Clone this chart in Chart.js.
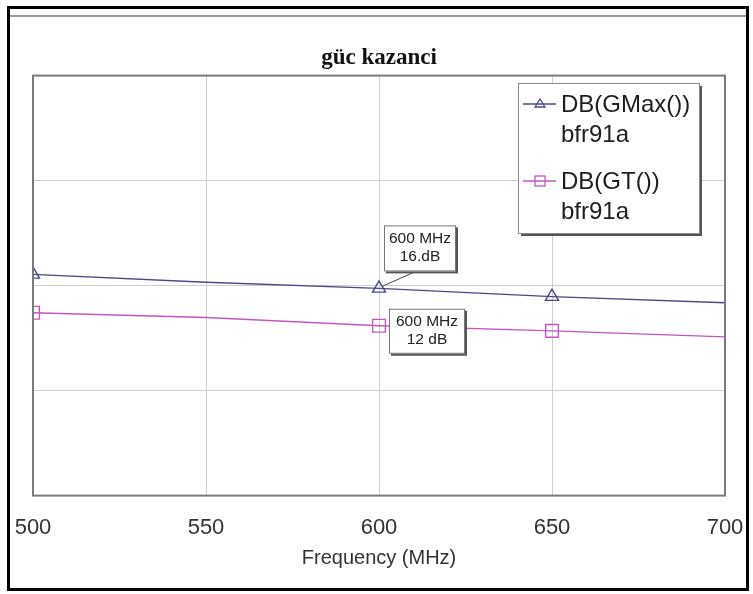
<!DOCTYPE html>
<html>
<head>
<meta charset="utf-8">
<script src="https://cdn.jsdelivr.net/npm/chart.js@4"></script>
<style>
html,body{margin:0;padding:0;background:#fff;}
#wrap{width:753px;height:594px;position:relative;}
</style>
</head>
<body>
<div id="wrap"><canvas id="c" width="753" height="594"></canvas></div>
<script>
// ---- data ----
const titleText = "güc kazanci";
const xAxisTitle = "Frequency (MHz)";
const frequencies = [500, 550, 600, 650, 700];
const gmaxValues = [17.5, 16.66, 16.0, 15.12, 14.47];
const gtValues = [13.39, 12.89, 12.0, 11.45, 10.81];
const gmaxMarkers = [1, 0, 1, 1, 0];
const gtMarkers = [1, 0, 1, 1, 0];
const seriesNames = ["DB(GMax())", "DB(GT())"];
const seriesSub = ["bfr91a", "bfr91a"];
const markerLabels = [["600 MHz", "16.dB"], ["600 MHz", "12 dB"]];
const markerFreq = 600;
const xTicks = [500, 550, 600, 650, 700];
const yMin = -6.2, yMax = 38.8, yDivisions = 4;

const colGMax = '#4a4a86';
const colGT = '#c258c2';
const FONT = "'Liberation Sans', Arial, sans-serif";

const framePlugin = {
  id: 'frame',
  beforeDraw(chart) {
    const ctx = chart.ctx;
    ctx.save();
    ctx.fillStyle = '#fff';
    ctx.fillRect(0, 0, chart.width, chart.height);
    ctx.restore();
  },
  afterDatasetsDraw(chart) {
    const ctx = chart.ctx, a = chart.chartArea;
    ctx.save();
    // plot frame
    ctx.strokeStyle = '#7a7a7a';
    ctx.lineWidth = 2;
    ctx.strokeRect(a.left, a.top, a.right - a.left, a.bottom - a.top);
    // outer border
    ctx.strokeStyle = '#000';
    ctx.lineWidth = 3;
    ctx.strokeRect(8.5, 7.5, 739, 582);
    ctx.strokeStyle = '#9a9a9a';
    ctx.lineWidth = 2;
    ctx.beginPath(); ctx.moveTo(10, 16); ctx.lineTo(746, 16); ctx.stroke();

    // legend box
    const lx = 518, ly = 83, lw = 181, lh = 150;
    ctx.fillStyle = '#555';
    ctx.fillRect(lx + 3, ly + 3, lw, lh);
    ctx.fillStyle = '#fff';
    ctx.fillRect(lx, ly, lw, lh);
    ctx.strokeStyle = '#8a8a8a';
    ctx.lineWidth = 1;
    ctx.strokeRect(lx + 0.5, ly + 0.5, lw, lh);
    const entries = [
      {c: colGMax, style: 'triangle', y: 104},
      {c: colGT, style: 'rect', y: 181}
    ];
    ctx.font = '24px ' + FONT;
    ctx.textBaseline = 'middle';
    ctx.textAlign = 'left';
    entries.forEach((e, i) => {
      ctx.strokeStyle = e.c;
      ctx.lineWidth = 1.3;
      ctx.beginPath(); ctx.moveTo(523, e.y); ctx.lineTo(556, e.y); ctx.stroke();
      if (e.style === 'triangle') {
        ctx.beginPath();
        ctx.moveTo(540, e.y - 5); ctx.lineTo(545, e.y + 3); ctx.lineTo(535, e.y + 3); ctx.closePath(); ctx.stroke();
      } else {
        ctx.strokeRect(535, e.y - 5, 10, 10);
      }
      ctx.fillStyle = '#1e1e1e';
      ctx.fillText(seriesNames[i], 561, e.y + 1);
      ctx.fillText(seriesSub[i], 561, e.y + 31);
    });

    // marker annotations
    const xs = chart.scales.x, ys = chart.scales.y;
    const idx = frequencies.indexOf(markerFreq);
    const px = xs.getPixelForValue(markerFreq);
    const p1 = ys.getPixelForValue(gmaxValues[idx]);
    const p2 = ys.getPixelForValue(gtValues[idx]);
    const boxes = [
      {x: px + 5, y: p1 - 63, w: 72, h: 46, lines: markerLabels[0], lead: [px + 37, p1 - 17, px + 3, p1 - 2]},
      {x: px + 10, y: p2 - 17, w: 76, h: 45, lines: markerLabels[1], lead: null}
    ];
    boxes.forEach(b => {
      if (b.lead) {
        ctx.strokeStyle = '#444';
        ctx.lineWidth = 1;
        ctx.beginPath(); ctx.moveTo(b.lead[0], b.lead[1]); ctx.lineTo(b.lead[2], b.lead[3]); ctx.stroke();
      }
      ctx.fillStyle = '#555';
      ctx.fillRect(b.x + 2, b.y + 2, b.w, b.h);
      ctx.fillStyle = '#fff';
      ctx.fillRect(b.x, b.y, b.w, b.h);
      ctx.strokeStyle = '#777';
      ctx.lineWidth = 1;
      ctx.strokeRect(b.x + 0.5, b.y + 0.5, b.w - 1, b.h - 1);
      ctx.fillStyle = '#222';
      ctx.font = '15.5px ' + FONT;
      ctx.textAlign = 'center';
      ctx.textBaseline = 'middle';
      ctx.fillText(b.lines[0], b.x + b.w / 2, b.y + 13);
      ctx.fillText(b.lines[1], b.x + b.w / 2, b.y + 31);
    });
    ctx.restore();
  }
};

new Chart(document.getElementById('c'), {
  type: 'line',
  data: {
    datasets: [
      {
        label: seriesNames[0],
        data: frequencies.map((f, i) => ({x: f, y: gmaxValues[i]})),
        borderColor: colGMax,
        borderWidth: 1.4,
        pointStyle: 'triangle',
        pointRadius: gmaxMarkers.map(m => m ? 7.5 : 0),
        pointBorderColor: colGMax,
        pointBackgroundColor: 'rgba(255,255,255,0)',
        pointBorderWidth: 1.4,
        tension: 0
      },
      {
        label: seriesNames[1],
        data: frequencies.map((f, i) => ({x: f, y: gtValues[i]})),
        borderColor: colGT,
        borderWidth: 1.4,
        pointStyle: 'rect',
        pointRadius: gtMarkers.map(m => m ? 9 : 0),
        pointBorderColor: colGT,
        pointBackgroundColor: 'rgba(255,255,255,0)',
        pointBorderWidth: 1.4,
        tension: 0
      }
    ]
  },
  options: {
    responsive: false,
    animation: false,
    events: [],
    layout: {padding: {left: 33, right: 28, top: 44, bottom: 24}},
    plugins: {
      legend: {display: false},
      tooltip: {enabled: false},
      title: {
        display: true,
        text: titleText,
        color: '#111',
        font: {family: "'Liberation Serif', 'Times New Roman', serif", size: 23, weight: 'bold', lineHeight: 1.2},
        padding: {top: 0, bottom: 4}
      }
    },
    scales: {
      x: {
        type: 'linear',
        min: 500, max: 700,
        afterBuildTicks(s) { s.ticks = xTicks.map(v => ({value: v})); },
        grid: {color: '#cfcfcf', lineWidth: 1, drawTicks: true, tickLength: 19, tickColor: 'rgba(0,0,0,0)'},
        border: {display: false},
        ticks: {color: '#333', font: {family: FONT, size: 22, lineHeight: 1.2}, padding: 0, maxRotation: 0},
        title: {display: true, text: xAxisTitle, color: '#333', font: {family: FONT, size: 20, lineHeight: 1.2}, padding: {top: 5, bottom: 0}}
      },
      y: {
        type: 'linear',
        min: yMin, max: yMax,
        afterBuildTicks(s) {
          const t = [];
          for (let i = 0; i <= yDivisions; i++) t.push({value: yMin + (yMax - yMin) * i / yDivisions});
          s.ticks = t;
        },
        grid: {color: '#cfcfcf', lineWidth: 1, drawTicks: false},
        border: {display: false},
        ticks: {display: false}
      }
    }
  },
  plugins: [framePlugin]
});
</script>
</body>
</html>
